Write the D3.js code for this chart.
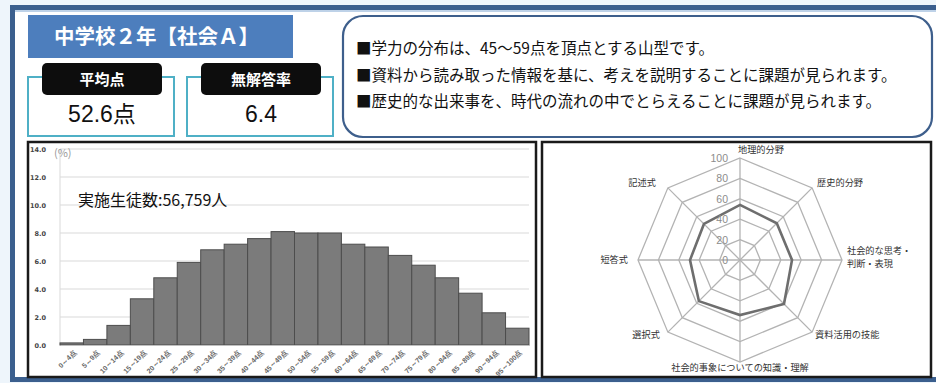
<!DOCTYPE html>
<html lang="ja">
<head>
<meta charset="utf-8">
<script src="https://cdn.jsdelivr.net/npm/d3@7"></script>
<style>
  html, body { margin: 0; padding: 0; background: #eef5fb; }
  svg { display: block; font-family: "Noto Sans CJK JP", "Noto Sans", sans-serif; }
</style>
</head>
<body>
<svg id="chart" width="936" height="383"></svg>
<script>
// ---- data ----
const scoreBins = ["0～4点","5～9点","10～14点","15～19点","20～24点","25～29点","30～34点","35～39点","40～44点","45～49点",
                   "50～54点","55～59点","60～64点","65～69点","70～74点","75～79点","80～84点","85～89点","90～94点","95～100点"];
const binShares = [0.15, 0.4, 1.4, 3.3, 4.8, 5.9, 6.8, 7.2, 7.6, 8.1, 8.0, 8.0, 7.2, 7.0, 6.4, 5.7, 4.8, 3.7, 2.3, 1.2];
const shareTicks = [0, 2, 4, 6, 8, 10, 12, 14];

const radarAxes = ["地理的分野", "歴史的分野", "社会的な思考・判断・表現", "資料活用の技能",
                   "社会的事象についての知識・理解", "選択式", "短答式", "記述式"];
const radarValues = [54, 51, 51, 61, 54, 57, 49, 50];
const radarTicks = [0, 20, 40, 60, 80, 100];

const titleText = "中学校２年【社会Ａ】";
const statLabels = ["平均点", "無解答率"];
const statValues = ["52.6点", "6.4"];
const summaryLines = [
  "■学力の分布は、45～59点を頂点とする山型です。",
  "■資料から読み取った情報を基に、考えを説明することに課題が見られます。",
  "■歴史的な出来事を、時代の流れの中でとらえることに課題が見られます。"
];
const studentCount = "実施生徒数:56,759人";

const svg = d3.select("#chart");

// ---- outer frame ----
svg.append("rect").attr("x", 12.5).attr("y", 7.5).attr("width", 940).attr("height", 372)
  .attr("fill", "#ffffff").attr("stroke", "#3b5f8e").attr("stroke-width", 5);
svg.append("line").attr("x1", 15).attr("x2", 936).attr("y1", 11).attr("y2", 11)
  .attr("stroke", "#a9c3e0").attr("stroke-width", 1.5);

// ---- title ----
svg.append("rect").attr("x", 28).attr("y", 15).attr("width", 265).attr("height", 43).attr("fill", "#4d7ebd");
svg.append("text").attr("x", 54).attr("y", 44).attr("fill", "#fff")
  .attr("font-size", 20.5).attr("font-weight", 700).text(titleText);

// ---- stat boxes ----
const statX = [28, 187];
statLabels.forEach((lab, i) => {
  const x0 = statX[i];
  svg.append("rect").attr("x", x0).attr("y", 77).attr("width", 146).attr("height", 59)
    .attr("fill", "#fff").attr("stroke", "#4fb0c6").attr("stroke-width", 2);
  svg.append("rect").attr("x", x0 + 14).attr("y", 63).attr("width", 120).attr("height", 32)
    .attr("rx", 5).attr("fill", "#0d0d0d");
  svg.append("text").attr("x", x0 + 74).attr("y", 85).attr("text-anchor", "middle")
    .attr("fill", "#fff").attr("font-size", 15).attr("font-weight", 700).text(lab);
  svg.append("text").attr("x", x0 + 74).attr("y", 122).attr("text-anchor", "middle")
    .attr("fill", "#111").attr("font-size", 23).attr("font-family", "Liberation Sans, Noto Sans CJK JP, sans-serif")
    .text(statValues[i]);
});

// ---- summary box ----
svg.append("rect").attr("x", 343).attr("y", 16).attr("width", 589).attr("height", 121).attr("rx", 20)
  .attr("fill", "#fff").attr("stroke", "#3e5f8c").attr("stroke-width", 2.2);
summaryLines.forEach((t, i) => {
  svg.append("text").attr("x", 356).attr("y", 54 + i * 26.5).attr("fill", "#111")
    .attr("font-size", 15.5).text(t);
});

// ---- histogram panel ----
svg.append("rect").attr("x", 28).attr("y", 142).attr("width", 508).attr("height", 235)
  .attr("fill", "#fff").attr("stroke", "#1a1a1a").attr("stroke-width", 2.5);

const hx = d3.scaleBand().domain(scoreBins).range([60, 529]).padding(0);
const hy = d3.scaleLinear().domain([0, 14]).range([345, 149]);

const hist = svg.append("g");
hist.append("g").selectAll("line").data(shareTicks).join("line")
  .attr("x1", 60).attr("x2", 529).attr("y1", d => hy(d)).attr("y2", d => hy(d))
  .attr("stroke", "#d9d9d9").attr("stroke-width", 1.2);
hist.append("line").attr("x1", 60).attr("x2", 60).attr("y1", hy(0)).attr("y2", hy(14))
  .attr("stroke", "#d9d9d9").attr("stroke-width", 1);

const yAxis = d3.axisLeft(hy).tickValues(shareTicks).tickFormat(d3.format(".1f")).tickSize(0).tickPadding(14);
const yg = hist.append("g").attr("transform", "translate(60,0)").call(yAxis);
yg.select(".domain").remove();
yg.selectAll("text").attr("font-size", 6.5).attr("font-weight", 700).attr("fill", "#444")
  .attr("font-family", "DejaVu Sans, sans-serif");

hist.append("g").selectAll("rect").data(binShares).join("rect")
  .attr("x", (d, i) => hx(scoreBins[i]))
  .attr("y", d => hy(d))
  .attr("width", hx.bandwidth())
  .attr("height", d => hy(0) - hy(d))
  .attr("fill", "#7b7b7b").attr("stroke", "#4d4d4d").attr("stroke-width", 1);

const xAxis = d3.axisBottom(hx).tickSize(0).tickPadding(0);
const xg = hist.append("g").attr("transform", `translate(0,${hy(0)})`).call(xAxis);
xg.select(".domain").attr("stroke", "#bfbfbf");
xg.selectAll("text")
  .attr("font-size", 7).attr("font-weight", 700).attr("fill", "#666")
  .attr("text-anchor", "end").attr("dy", 0)
  .attr("transform", "translate(5,8) rotate(-45)");

hist.append("text").attr("x", 54).attr("y", 157).attr("fill", "#999").attr("font-size", 11).text("(%)");
hist.append("text").attr("x", 78).attr("y", 206).attr("fill", "#111").attr("font-size", 16).text(studentCount);

// ---- radar panel ----
svg.append("rect").attr("x", 542).attr("y", 142).attr("width", 389).attr("height", 235)
  .attr("fill", "#fff").attr("stroke", "#1a1a1a").attr("stroke-width", 2.5);

const cx = 740, cy = 260;
const rr = d3.scaleLinear().domain([0, 100]).range([0, 102]);
const ang = i => (i * 2 * Math.PI) / radarAxes.length;
const pt = (i, v) => [cx + rr(v) * Math.sin(ang(i)), cy - rr(v) * Math.cos(ang(i))];

const radar = svg.append("g");
radarTicks.filter(t => t > 0).forEach(t => {
  radar.append("path")
    .attr("d", d3.line()(radarAxes.map((a, i) => pt(i, t))) + "Z")
    .attr("fill", "none").attr("stroke", "#b3b3b3").attr("stroke-width", 1.3);
});
radarAxes.forEach((a, i) => {
  const [x2, y2] = pt(i, 100);
  radar.append("line").attr("x1", cx).attr("y1", cy).attr("x2", x2).attr("y2", y2)
    .attr("stroke", "#b3b3b3").attr("stroke-width", 1.3);
});
radar.append("path")
  .attr("d", d3.line()(radarValues.map((v, i) => pt(i, v))) + "Z")
  .attr("fill", "none").attr("stroke", "#6e6e6e").attr("stroke-width", 2.6);

radar.selectAll("text.tick").data(radarTicks).join("text").attr("class", "tick")
  .attr("x", cx - 12).attr("y", d => cy - rr(d) + 4)
  .attr("text-anchor", "end").attr("fill", "#8c8c8c").attr("font-size", 10.5)
  .attr("font-family", "Liberation Sans, sans-serif")
  .text(d => d);

// axis label placement around the octagon
const labelPos = [
  { dx: -2, dy: -5, anchor: "start" },
  { dx: 5, dy: -2, anchor: "start" },
  { dx: 5, dy: -2, anchor: "start" },
  { dx: 3, dy: 6, anchor: "start" },
  { dx: 0, dy: 9, anchor: "middle" },
  { dx: -8, dy: 6, anchor: "end" },
  { dx: -10, dy: 3, anchor: "end" },
  { dx: -12, dy: -2, anchor: "end" }
];
radarAxes.forEach((a, i) => {
  const [x, y] = pt(i, 100);
  const p = labelPos[i];
  const t = radar.append("text").attr("x", x + p.dx).attr("y", y + p.dy)
    .attr("text-anchor", p.anchor).attr("fill", "#333").attr("font-size", 9.2);
  if (a === "社会的な思考・判断・表現") {
    t.append("tspan").attr("x", x + p.dx).attr("dy", -4.5).text("社会的な思考・");
    t.append("tspan").attr("x", x + p.dx).attr("dy", 13.6).text("判断・表現");
  } else {
    t.text(a);
  }
});
</script>
</body>
</html>
